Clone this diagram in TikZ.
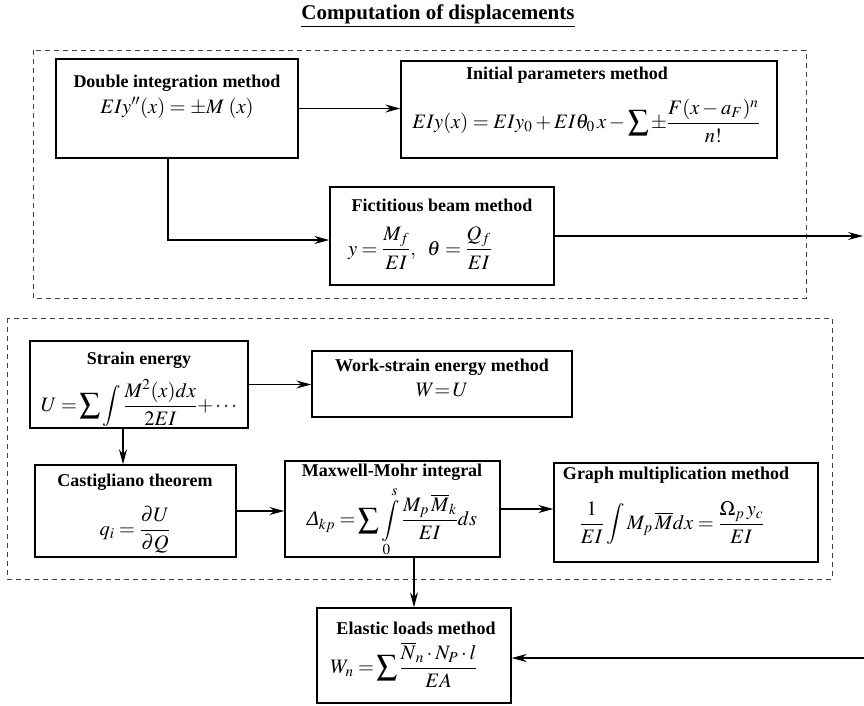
\documentclass[tikz,border=0pt]{standalone}
\usepackage{mathptmx}
\usepackage[no-math]{fontspec}
\setmainfont{Liberation Serif}
\usetikzlibrary{arrows.meta}

\begin{document}
\begin{tikzpicture}[x=1pt,y=-1pt,>={Stealth[length=15pt,width=8pt,inset=5pt]},
  every node/.style={font=\fontsize{18}{21}\selectfont,inner sep=0pt},
  ttl/.style={font=\fontsize{18}{21}\selectfont\bfseries},
  eqn/.style={font=\fontsize{20.5}{24}\selectfont},
  box/.style={draw,line width=1.4pt},
  group/.style={draw=black!75,line width=0.9pt,dash pattern=on 5pt off 4pt},
  link/.style={->,line width=1.2pt}]

\useasboundingbox (0,0) rectangle (864,705);

% Heading
\node[font=\fontsize{21}{24}\selectfont\bfseries] (head) at (438,14) {Computation of displacements};
\draw[line width=1pt] ([yshift=-3pt]head.south west) -- ([yshift=-3pt]head.south east);

% Groups
\draw[group] (33,50) rectangle (806,298);
\draw[group] (7,318) rectangle (832,579);

% Deflection methods
\node[box,minimum width=242,minimum height=99] (dbl) at (177,108.5) {};
\node[ttl] (dbl-t) at (177,83) {Double integration method};
\node[eqn] (dbl-f) at (177,108) {$EIy''(x)=\pm M\;(x)$};

\node[box,minimum width=376,minimum height=97] (ipm) at (589,109.5) {};
\node[ttl] (ipm-t) at (567,75) {Initial parameters method};
\node[eqn] (ipm-f) at (586,121) {$\displaystyle EIy(x)=EIy_0+EI\theta_0\,x-\sum\pm\frac{F(x-a_F)^n}{n!}$};

\node[box,minimum width=224,minimum height=98] (fict) at (442,236) {};
\node[ttl] (fict-t) at (442,205) {Fictitious beam method};
\node[eqn] (fict-f) at (420,248) {$\displaystyle y=\frac{M_f}{EI},\;\;\theta=\frac{Q_f}{EI}$};

% Energy methods
\node[box,minimum width=218,minimum height=87] (se) at (139,384.5) {};
\node[ttl] (se-t) at (139,360) {Strain energy};
\node[eqn] (se-f) at (139,403) {$\displaystyle U=\!\sum\int\frac{M^2(x)dx}{2EI}{+}\cdots$};

\node[box,minimum width=260,minimum height=66] (ws) at (442,384) {};
\node[ttl] (ws-t) at (442,367) {Work-strain energy method};
\node[eqn] (ws-f) at (442,390) {$W{=}\,U$};

\node[box,minimum width=201,minimum height=92] (cas) at (135.5,511) {};
\node[ttl] (cas-t) at (135,482) {Castigliano theorem};
\node[eqn] (cas-f) at (135,530) {$\displaystyle q_i=\frac{\partial U}{\partial Q}$};

\node[box,minimum width=215,minimum height=96] (mm) at (392.5,509) {};
\node[ttl] (mm-t) at (392,472) {Maxwell-Mohr integral};
\node[eqn] (mm-f) at (392,522) {$\displaystyle \mbox{\itshape Δ}_{kp}=\!\sum\int\limits_0^s\frac{M_p\,\overline{M}_k}{EI}ds$};

\node[box,minimum width=264,minimum height=99] (gm) at (686,512.5) {};
\node[ttl] (gm-t) at (676,475) {Graph multiplication method};
\node[eqn] (gm-f) at (672,523) {$\displaystyle \frac{1}{EI}\int M_p\,\overline{M}dx=\frac{\Omega_p\,y_c}{EI}$};

\node[box,minimum width=194,minimum height=95] (els) at (414,655.5) {};
\node[ttl] (els-t) at (416,628) {Elastic loads method};
\node[eqn] (els-f) at (404,665) {$\displaystyle W_n=\!\sum\frac{\overline{N}_n\cdot N_P\cdot l}{EA}$};

% Connectors
\coordinate (bend) at (168,240);
\coordinate (out1) at (863,236);
\coordinate (in1) at (864,658);
\draw[link] (dbl.east) -- (dbl.east -| ipm.west);
\draw[link] (dbl.south -| bend) -- (bend) -- (bend -| fict.west);
\draw[link] (fict.east) -- (out1);
\draw[link] (se.east) -- (se.east -| ws.west);
\draw[link] ([xshift=-16pt]se.south) -- ([xshift=-16pt]se.south |- cas.north);
\draw[link] (cas.east) -- (cas.east -| mm.west);
\draw[link] (mm.east) -- (mm.east -| gm.west);
\draw[link] (mm.south -| els.north) -- (els.north);
\draw[link] (in1) -- (in1 -| els.east);

\end{tikzpicture}
\end{document}
